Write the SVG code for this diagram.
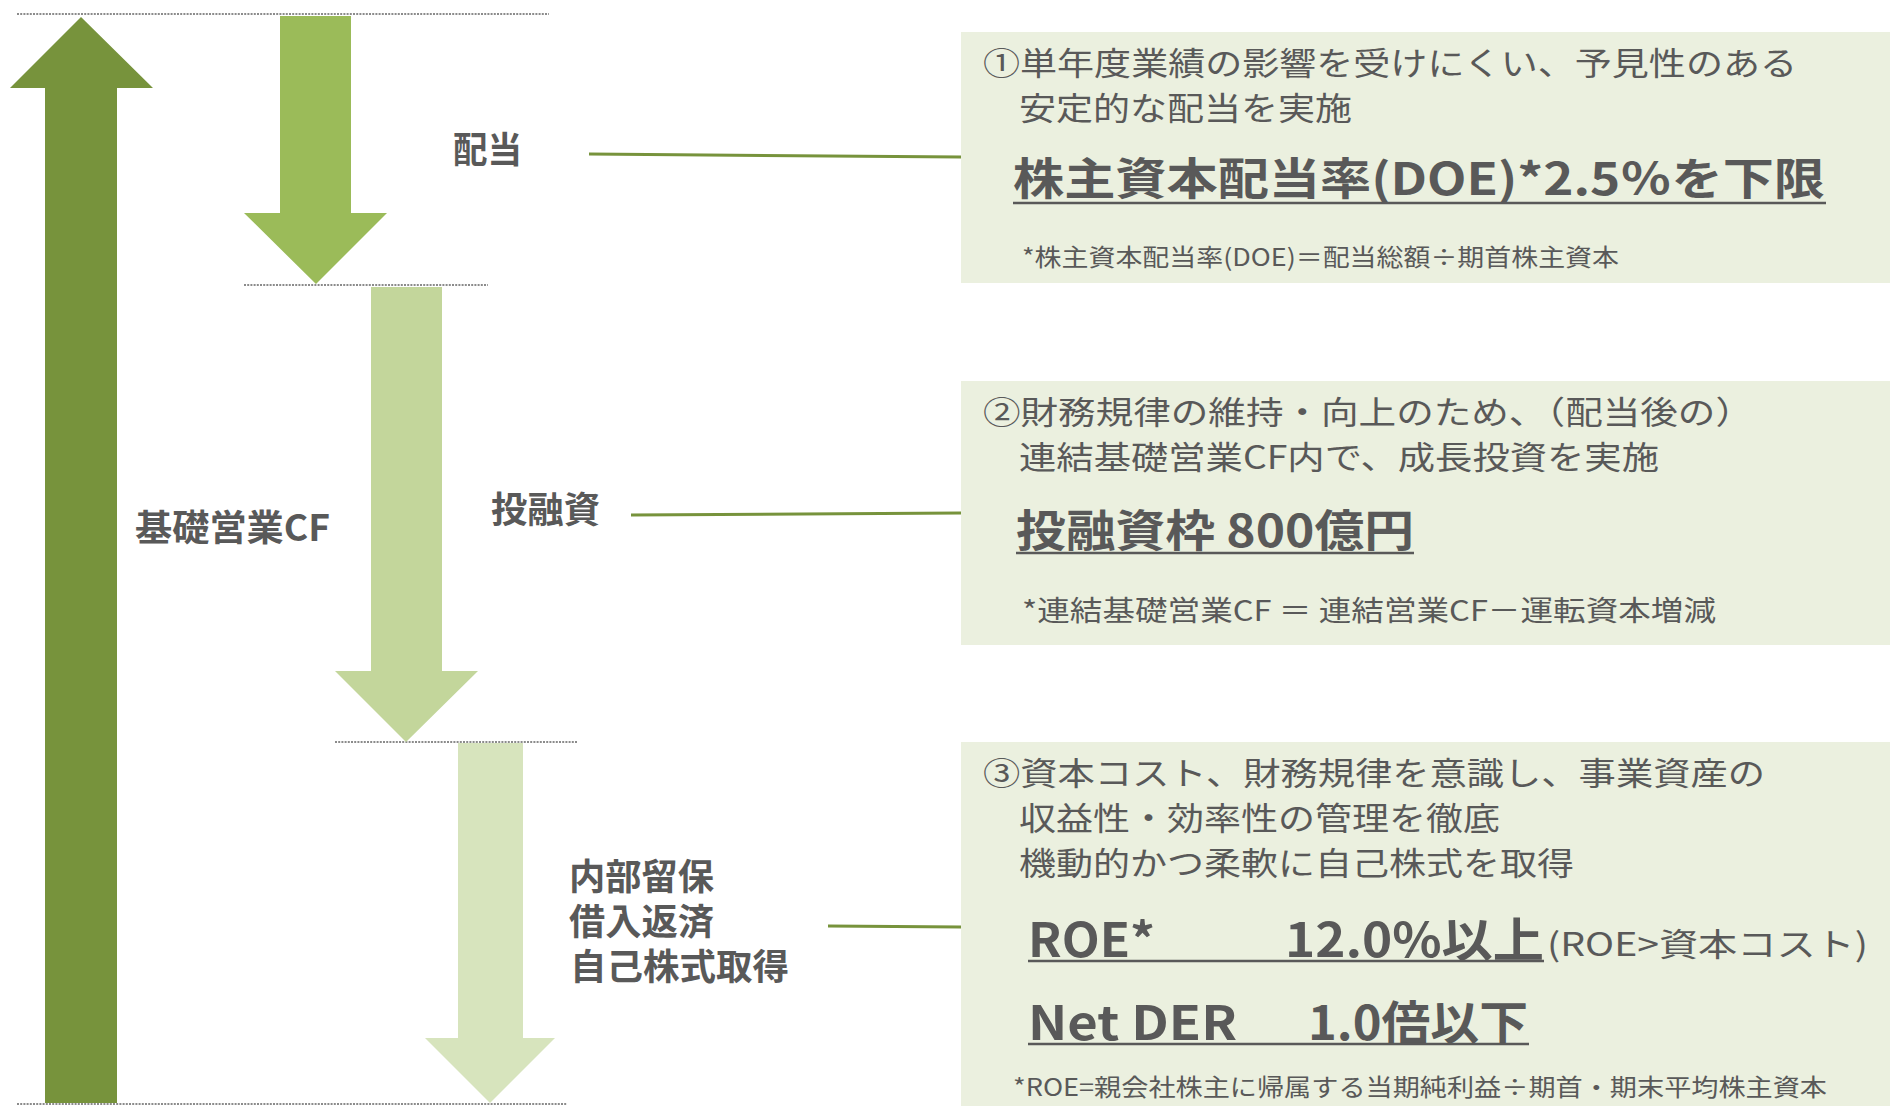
<svg xmlns="http://www.w3.org/2000/svg" width="1890" height="1106" viewBox="0 0 1890 1106">
<style>
.dot{stroke:#666;stroke-width:1.6;stroke-dasharray:2 1.2;fill:none}
.con{stroke:#77933C;stroke-width:3;fill:none}
.box{fill:#EBF0DF}
.lbl{font-family:"Noto Sans CJK JP","Noto Sans",sans-serif;font-weight:bold;font-size:36px;fill:#595959}
.t{font-family:"Noto Sans CJK JP","Noto Sans",sans-serif;font-size:32px;fill:#595959}
.big{font-family:"Noto Sans CJK JP","Noto Sans",sans-serif;font-weight:bold;font-size:44px;fill:#595959}
.big2{font-family:"Noto Sans CJK JP","Noto Sans",sans-serif;font-weight:bold;font-size:47px;fill:#595959}
.fn{font-family:"Noto Sans CJK JP","Noto Sans",sans-serif;font-size:24px;fill:#595959}
.fn2{font-family:"Noto Sans CJK JP","Noto Sans",sans-serif;font-size:28px;fill:#595959}
.ul{stroke:#595959;stroke-width:2.5}
</style>
<rect width="1890" height="1106" fill="#FFFFFF"/>
<g id="guides">
<line class="dot" x1="17" y1="14" x2="549" y2="14"/>
<line class="dot" x1="244" y1="285" x2="488" y2="285"/>
<line class="dot" x1="335" y1="742" x2="578" y2="742"/>
<line class="dot" x1="17" y1="1104" x2="567" y2="1104"/>
</g>
<g id="arrow-cf">
<polygon points="81,17 153,88 117,88 117,1103 45,1103 45,88 10,88" fill="#77933C"/>
<text class="lbl" x="135" y="541" textLength="195" lengthAdjust="spacingAndGlyphs">基礎営業CF</text>
</g>
<g id="arrow-dividend">
<polygon points="280,16 351,16 351,213 387,213 316,284 244,213 280,213" fill="#9BBB59"/>
<text class="lbl" x="453" y="163" textLength="69" lengthAdjust="spacingAndGlyphs">配当</text>
</g>
<g id="arrow-invest">
<polygon points="371,287 442,287 442,671 478,671 406,742 335,671 371,671" fill="#C3D69B"/>
<text class="lbl" x="491" y="523" textLength="109" lengthAdjust="spacingAndGlyphs">投融資</text>
</g>
<g id="arrow-retain">
<polygon points="458,743 523,743 523,1038 555,1038 490,1103 425,1038 458,1038" fill="#D7E4BD"/>
<text class="lbl" x="569" y="890" textLength="145" lengthAdjust="spacingAndGlyphs">内部留保</text>
<text class="lbl" x="569" y="935" textLength="145" lengthAdjust="spacingAndGlyphs">借入返済</text>
<text class="lbl" x="570" y="980" textLength="219" lengthAdjust="spacingAndGlyphs">自己株式取得</text>
</g>
<g id="connectors">
<line class="con" x1="589" y1="154" x2="961" y2="157"/>
<line class="con" x1="631" y1="515" x2="961" y2="513"/>
<line class="con" x1="828" y1="926" x2="961" y2="927"/>
</g>
<g id="box-dividend">
<rect class="box" x="961" y="32" width="929" height="251"/>
<text class="t" x="983" y="75" textLength="814" lengthAdjust="spacingAndGlyphs">①単年度業績の影響を受けにくい、予見性のある</text>
<text class="t" x="1019" y="120" textLength="333" lengthAdjust="spacingAndGlyphs">安定的な配当を実施</text>
<text class="big" x="1013" y="195" textLength="812" lengthAdjust="spacingAndGlyphs">株主資本配当率(DOE)*2.5％を下限</text>
<line class="ul" x1="1013" y1="203" x2="1826" y2="203"/>
<text class="fn" x="1022" y="266" textLength="597" lengthAdjust="spacingAndGlyphs">*株主資本配当率(DOE)＝配当総額÷期首株主資本</text>
</g>
<g id="box-invest">
<rect class="box" x="961" y="381" width="929" height="264"/>
<text class="t" x="983" y="424" textLength="770" lengthAdjust="spacingAndGlyphs">②財務規律の維持・向上のため、（配当後の）</text>
<text class="t" x="1019" y="469" textLength="640" lengthAdjust="spacingAndGlyphs">連結基礎営業CF内で、成長投資を実施</text>
<text class="big" x="1016" y="547" textLength="398" lengthAdjust="spacingAndGlyphs">投融資枠 800億円</text>
<line class="ul" x1="1016" y1="553" x2="1414" y2="553"/>
<text class="fn2" x="1022" y="621" textLength="694" lengthAdjust="spacingAndGlyphs">*連結基礎営業CF ＝ 連結営業CF－運転資本増減</text>
</g>
<g id="box-capital">
<rect class="box" x="961" y="742" width="929" height="364"/>
<text class="t" x="983" y="785" textLength="782" lengthAdjust="spacingAndGlyphs">③資本コスト、財務規律を意識し、事業資産の</text>
<text class="t" x="1019" y="830" textLength="481" lengthAdjust="spacingAndGlyphs">収益性・効率性の管理を徹底</text>
<text class="t" x="1019" y="875" textLength="555" lengthAdjust="spacingAndGlyphs">機動的かつ柔軟に自己株式を取得</text>
<text class="big2" x="1028" y="957" textLength="127" lengthAdjust="spacingAndGlyphs">ROE*</text>
<text class="big2" x="1285" y="957" textLength="259" lengthAdjust="spacingAndGlyphs">12.0%以上</text>
<line class="ul" x1="1028" y1="961" x2="1544" y2="961"/>
<text class="t" x="1547" y="956" font-size="36" textLength="321" lengthAdjust="spacingAndGlyphs">(ROE&gt;資本コスト)</text>
<text class="big2" x="1028" y="1040" textLength="209" lengthAdjust="spacingAndGlyphs">Net DER</text>
<text class="big2" x="1308" y="1040" textLength="220" lengthAdjust="spacingAndGlyphs">1.0倍以下</text>
<line class="ul" x1="1028" y1="1044" x2="1529" y2="1044"/>
<text class="fn" x="1013" y="1096" textLength="814" lengthAdjust="spacingAndGlyphs">*ROE=親会社株主に帰属する当期純利益÷期首・期末平均株主資本</text>
</g>
</svg>
